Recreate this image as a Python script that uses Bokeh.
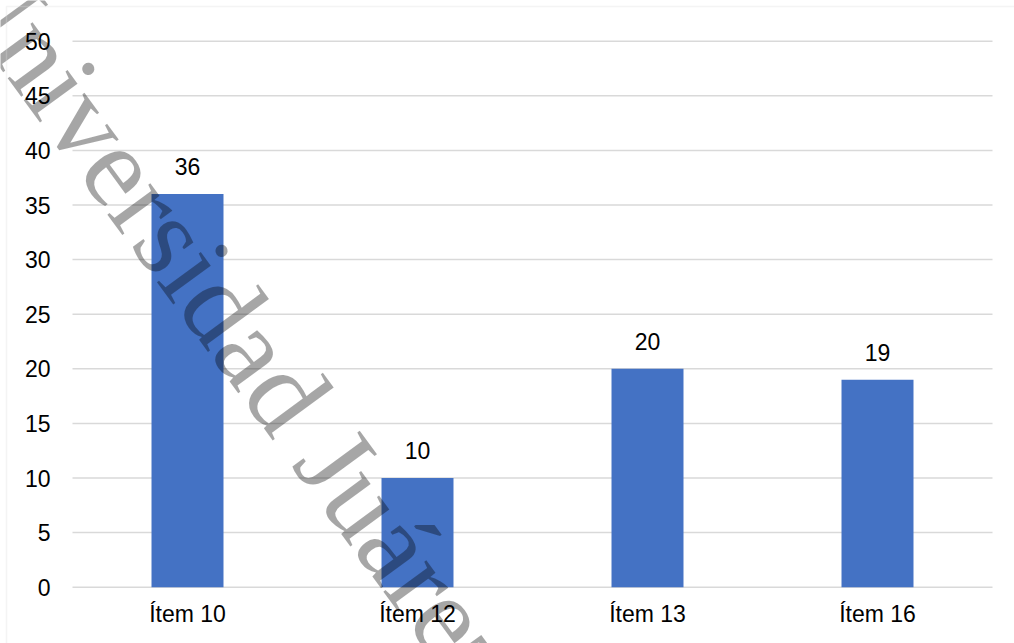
import math
from bokeh.plotting import figure
from bokeh.models import (ColumnDataSource, Range1d, FixedTicker,
                          LabelSet, Label, BoxAnnotation)
from bokeh.core.properties import value
from bokeh.embed import file_html
from bokeh.resources import INLINE

categories = ["Ítem 10", "Ítem 12", "Ítem 13", "Ítem 16"]
values = [36, 10, 20, 19]
y_ticks = [0, 5, 10, 15, 20, 25, 30, 35, 40, 45, 50]
watermark = "Universidad Juárez Autónoma de Tabasco"

FONT = "Liberation Sans"
FS = "23px"
W, H = 1014, 643

xs = [i + 0.5 for i in range(len(categories))]
src = ColumnDataSource(dict(x=xs, val=values, lab=[str(v) for v in values]))

# the frame covers the whole canvas; the category band spans canvas x 72..992
px_per_cat = 230.0
px_per_unit = 10.92
x0_px, y0_px = 72.0, 586.7
x_range = Range1d(-x0_px / px_per_cat, (W - x0_px) / px_per_cat)
y_range = Range1d(-(H - y0_px) / px_per_unit, y0_px / px_per_unit)

p = figure(width=W, height=H, x_range=x_range, y_range=y_range,
           output_backend="svg", toolbar_location=None, tools="",
           min_border=0)
p.min_border_left = p.min_border_right = p.min_border_top = p.min_border_bottom = 0
p.outline_line_color = None
p.background_fill_color = "white"
p.border_fill_color = "white"
p.xgrid.grid_line_color = None
p.ygrid.grid_line_color = None

# horizontal gridlines limited to the category band
n = len(categories)
p.segment(x0=[0] * len(y_ticks), x1=[n] * len(y_ticks), y0=y_ticks, y1=y_ticks,
          line_color="#d9d9d9", line_width=1.5)

p.vbar(x="x", top="val", width=0.313, source=src, color="#4472C4",
       line_color=None)

p.xaxis.ticker = FixedTicker(ticks=xs)
p.xaxis.major_label_overrides = {x: c for x, c in zip(xs, categories)}
p.xaxis.fixed_location = 0
p.yaxis.ticker = FixedTicker(ticks=y_ticks)
p.yaxis.fixed_location = 0

for ax in (p.xaxis[0], p.yaxis[0]):
    ax.axis_line_color = None
    ax.major_tick_line_color = None
    ax.minor_tick_line_color = None
    ax.major_label_text_font = FONT
    ax.major_label_text_font_size = FS
    ax.major_label_text_color = "#000000"
p.yaxis.major_label_standoff = 16
p.xaxis.major_label_standoff = 8

labels = LabelSet(x="x", y="val", text="lab", source=src, y_offset=19,
                  text_align="center", text_baseline="alphabetic",
                  text_font=value(FONT), text_font_size=FS, text_color="#000000")
p.add_layout(labels)

# diagonal watermark
ang = math.radians(53.8)
p.add_layout(Label(x=-30.4, y=H + 39.6, x_units="screen", y_units="screen",
                   text=watermark, angle=-ang, text_font="Liberation Serif",
                   text_font_size="116px", text_color="black", text_alpha=0.35,
                   text_align="left", text_baseline="alphabetic"))

# outer chart border (only the top and left edges fall inside the window)
p.add_layout(BoxAnnotation(left=6, right=W + 100, top=H - 6, bottom=-100,
                           left_units="screen", right_units="screen",
                           top_units="screen", bottom_units="screen",
                           fill_alpha=0, line_color="#d9d9d9", line_width=1.5))

open("out.html", "w").write(file_html(p, INLINE))
